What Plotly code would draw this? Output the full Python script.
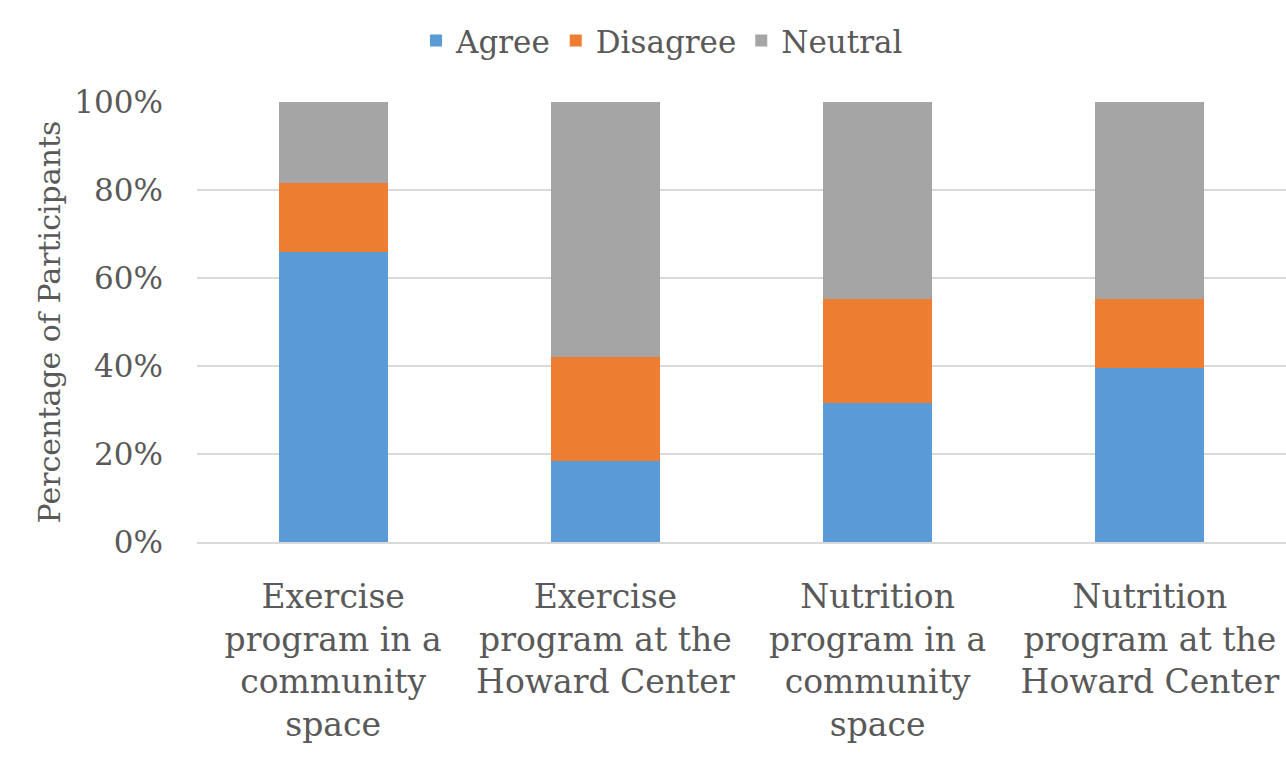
import plotly.graph_objects as go

# Survey responses (% of participants) per proposed program
programs = [
    "Exercise<br>program in a<br>community<br>space",
    "Exercise<br>program at the<br>Howard Center",
    "Nutrition<br>program in a<br>community<br>space",
    "Nutrition<br>program at the<br>Howard Center",
]
agree = [65.8, 18.4, 31.6, 39.5]
disagree = [15.8, 23.7, 23.7, 15.8]
neutral = [18.4, 57.9, 44.7, 44.7]

series = [
    ("Agree", agree, "#5B9BD5"),
    ("Disagree", disagree, "#ED7D31"),
    ("Neutral", neutral, "#A5A5A5"),
]

FONT = "DejaVu Serif"
TEXT = "#595959"
GRID = "#D9D9D9"

fig = go.Figure()
for name, vals, color in series:
    fig.add_trace(go.Bar(
        x=programs, y=vals, name=name,
        marker=dict(color=color, line=dict(width=0)),
    ))

fig.update_layout(
    width=1286, height=761,
    barmode="stack", bargap=0.6,
    plot_bgcolor="white", paper_bgcolor="white",
    margin=dict(l=197, r=0, t=102, b=219),
    font=dict(family=FONT, size=31, color=TEXT),
    legend=dict(
        orientation="h", x=0.427, xanchor="center", y=1.139, yanchor="middle",
        font=dict(family=FONT, size=31, color=TEXT), traceorder="normal",
        itemwidth=30,
    ),
    xaxis=dict(
        showgrid=False, showline=True, linecolor=GRID, linewidth=2,
        tickfont=dict(family=FONT, size=33, color=TEXT), ticks="", ticklabelstandoff=24,
    ),
    yaxis=dict(
        range=[0, 100], dtick=20, ticksuffix="%",
        showgrid=True, gridcolor=GRID, gridwidth=2, zeroline=False,
        tickfont=dict(family=FONT, size=31, color=TEXT), ticks="", ticklabelstandoff=33,
        title=dict(text="Percentage of Participants",
                   font=dict(family=FONT, size=30, color=TEXT), standoff=4),
    ),
)

fig.write_html("out.html")
